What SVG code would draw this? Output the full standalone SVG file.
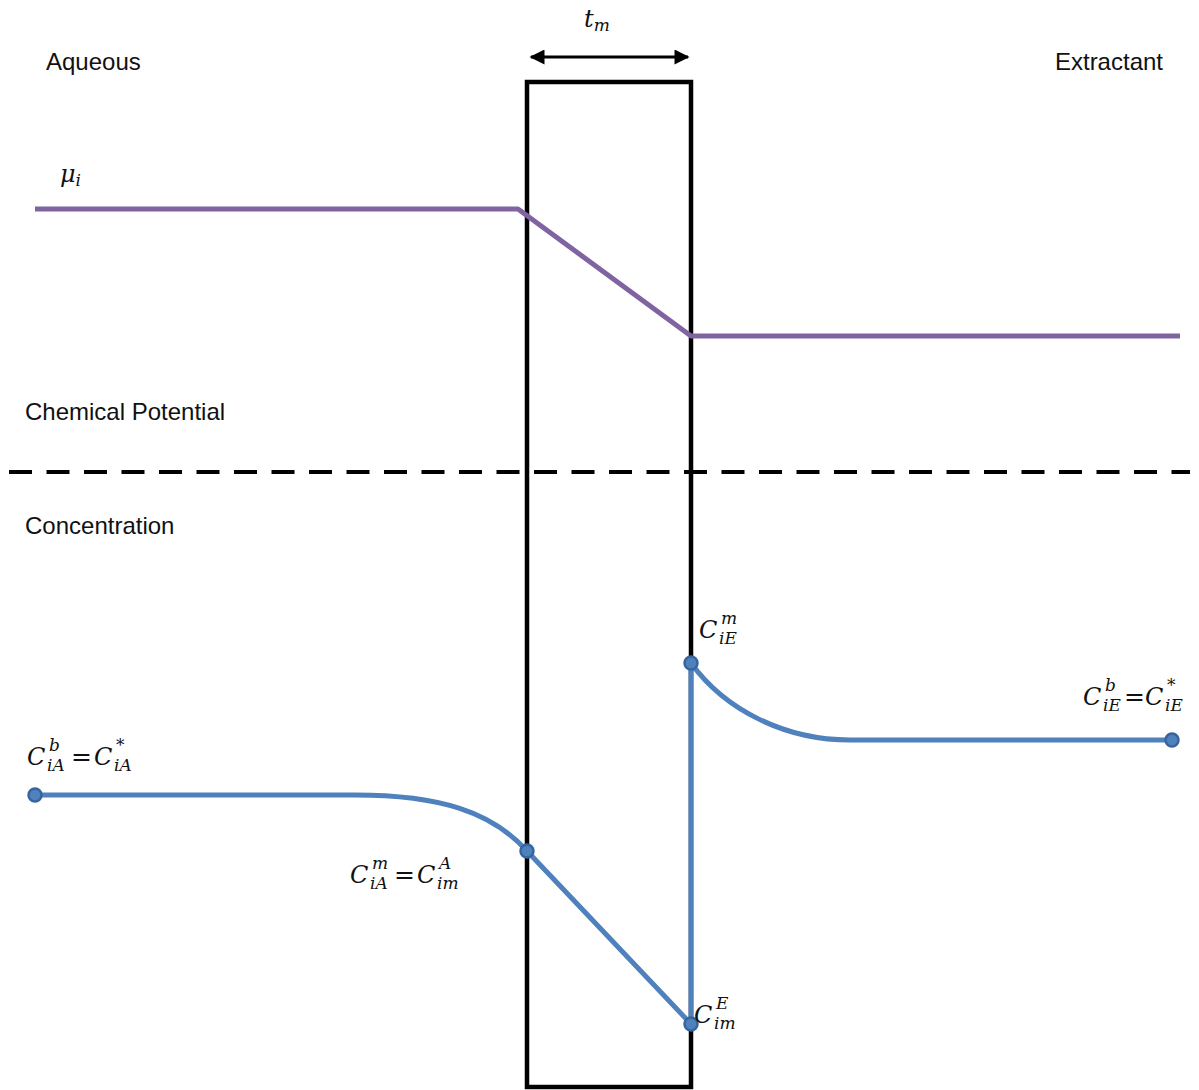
<svg xmlns="http://www.w3.org/2000/svg" width="1199" height="1090" viewBox="0 0 1199 1090">
  <style>
    .lbl { font-family: "Liberation Sans", "Open Sans", sans-serif; font-size: 24px; fill: #111; }
    .math { font-family: "DejaVu Serif", "Liberation Serif", serif; font-style: italic; font-size: 24px; fill: #111; }
    .sub { font-size: 17px; }
    .eq { font-style: normal; font-size: 25px; }
    .mu { fill: none; stroke: #8064A2; stroke-width: 5; stroke-linejoin: round; }
    .conc { fill: none; stroke: #4F81BD; stroke-width: 5; stroke-linejoin: round; }
    .dot { fill: #4F81BD; stroke: #37659E; stroke-width: 2.5; }
  </style>
  <defs>
    <marker id="ah" viewBox="0 0 10 10" refX="9" refY="5" markerWidth="5.5" markerHeight="5" orient="auto-start-reverse">
      <path d="M0,0 L10,5 L0,10 z" fill="#000"/>
    </marker>
  </defs>
  <rect width="1199" height="1090" fill="#fff"/>

  <!-- membrane -->
  <g id="membrane">
    <rect x="527" y="82" width="164" height="1005" fill="none" stroke="#000" stroke-width="4.5"/>
  </g>

  <!-- thickness dimension -->
  <g id="thickness">
    <line x1="531" y1="57" x2="688" y2="57" stroke="#000" stroke-width="3" marker-start="url(#ah)" marker-end="url(#ah)"/>
    <text class="math" x="584" y="27">t<tspan class="sub" dy="4">m</tspan></text>
  </g>

  <!-- section labels -->
  <g id="labels">
    <text class="lbl" x="46" y="70">Aqueous</text>
    <text class="lbl" x="1163" y="70" text-anchor="end">Extractant</text>
    <text class="lbl" x="25" y="420">Chemical Potential</text>
    <text class="lbl" x="25" y="534">Concentration</text>
  </g>

  <!-- divider -->
  <g id="divider">
    <line x1="9" y1="472" x2="1190" y2="472" stroke="#000" stroke-width="4" stroke-dasharray="23 14.5"/>
  </g>

  <g id="connectors">
    <!-- chemical potential profile -->
    <polyline class="mu" points="35,209 518,209 691,336 1180,336"/>
    <!-- concentration profile -->
    <path class="conc" d="M35,795 L355,795 C440,795 492,812 527,851 L691,1024 L691,663 C725,710 785,740 850,740 L1172,740"/>
  </g>

  <g id="points">
    <circle class="dot" cx="35" cy="795" r="6.5"/>
    <circle class="dot" cx="527" cy="851" r="6.5"/>
    <circle class="dot" cx="691" cy="1024" r="6.5"/>
    <circle class="dot" cx="691" cy="663" r="6.5"/>
    <circle class="dot" cx="1172" cy="740" r="6.5"/>
  </g>

  <!-- symbols with stacked super/subscripts -->
  <g id="math-labels">
    <text class="math" x="60" y="182">μ<tspan class="sub" dy="4">i</tspan></text>
    <text class="math" x="699" y="638">C<tspan class="sub" x="721" dy="-14">m</tspan><tspan class="sub" x="719" dy="20">iE</tspan></text>
    <text class="math" x="1083" y="705">C<tspan class="sub" x="1105" dy="-14">b</tspan><tspan class="sub" x="1103" dy="20">iE</tspan><tspan class="eq" x="1124" dy="-6">=</tspan><tspan x="1145">C</tspan><tspan class="sub" x="1167" dy="-14">*</tspan><tspan class="sub" x="1165" dy="20">iE</tspan></text>
    <text class="math" x="27" y="765">C<tspan class="sub" x="49" dy="-14">b</tspan><tspan class="sub" x="47" dy="20">iA</tspan><tspan class="eq" x="71" dy="-6">=</tspan><tspan x="94">C</tspan><tspan class="sub" x="116" dy="-14">*</tspan><tspan class="sub" x="114" dy="20">iA</tspan></text>
    <text class="math" x="350" y="883">C<tspan class="sub" x="372" dy="-14">m</tspan><tspan class="sub" x="370" dy="20">iA</tspan><tspan class="eq" x="394" dy="-6">=</tspan><tspan x="417">C</tspan><tspan class="sub" x="439" dy="-14">A</tspan><tspan class="sub" x="437" dy="20">im</tspan></text>
    <text class="math" x="694" y="1023">C<tspan class="sub" x="716" dy="-14">E</tspan><tspan class="sub" x="714" dy="20">im</tspan></text>
  </g>
</svg>
